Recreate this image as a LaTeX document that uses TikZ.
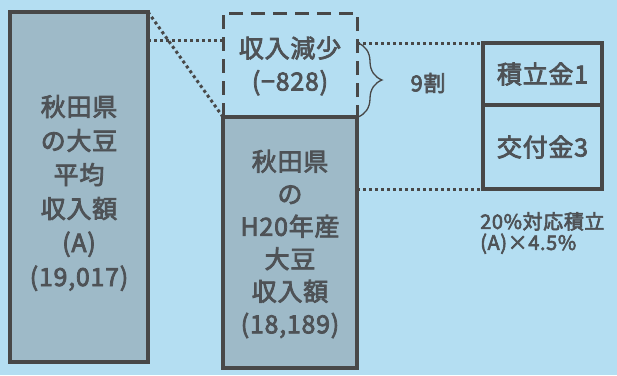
\documentclass[tikz,border=0pt]{standalone}
\usepackage{fontspec}
\newfontfamily\jp[LetterSpace=3,FakeBold=3]{Noto Sans CJK JP}
\usetikzlibrary{decorations.pathreplacing}
\definecolor{bg}{RGB}{180,222,242}
\definecolor{boxfill}{RGB}{158,186,200}
\definecolor{edge}{RGB}{72,72,72}
\definecolor{txt}{RGB}{78,82,86}
\begin{document}
\begin{tikzpicture}[x=1pt,y=-1pt,
  solidbox/.style={draw=edge, line width=3.5pt, fill=boxfill, inner sep=0pt, outer sep=0pt, anchor=north west},
  plainbox/.style={draw=edge, line width=3.5pt, inner sep=0pt, outer sep=0pt, anchor=north west, text=txt, font=\jp\fontsize{25}{28}\selectfont},
  dashbox/.style={draw=edge, line width=3pt, dash pattern=on 14pt off 8pt, inner sep=0pt, outer sep=0pt, anchor=north west},
  dotline/.style={draw=edge, line width=3pt, dash pattern=on 3pt off 3pt},
  lbl/.style={text=txt, align=center, inner sep=0pt}
]
\fill[bg] (0,0) rectangle (617,375);
\useasboundingbox (0,0) rectangle (617,375);

% boxes
\node[solidbox, minimum width=138pt, minimum height=350pt] (L) at (10,12) {};
\node[dashbox, minimum width=134pt, minimum height=104pt] (D) at (223,13) {};
\node[solidbox, minimum width=134pt, minimum height=251pt] (M) at (223,117) {};
\node[plainbox, minimum width=119pt, minimum height=62pt] (R1) at (483,43) {積立金1};
\node[plainbox, minimum width=119pt, minimum height=84pt] (R2) at (483,105) {交付金3};

% texts
\node[lbl, font=\jp\fontsize{25}{34}\selectfont] (Lt) at (79,193)
  {秋田県\\の大豆\\平均\\収入額\\(A)\\(19,017)};
\node[lbl, font=\jp\fontsize{25}{32.5}\selectfont] (Mt) at (290,244)
  {秋田県\\の\\H20年産\\大豆\\収入額\\(18,189)};
\node[lbl, font=\jp\fontsize{25}{33}\selectfont] (Dt) at (290,66)
  {収入減少\\(−828)};
\node[lbl, font=\jp\fontsize{22}{25}\selectfont] (k) at (428,83) {9割};
\node[lbl, align=left, anchor=west, font=\jp\fontsize{20}{21}\selectfont] (note) at (480,233)
  {20\%対応積立\\(A)×4.5\%};

% dotted connectors
\coordinate (h1) at (148,40);
\draw[dotline] (L.north east) -- (D.south west);
\draw[dotline] (h1) -- (h1 -| D.west);
\draw[dotline] (R1.north west -| D.east) -- (R1.north west);
\draw[dotline] (R2.south west -| M.east) -- (R2.south west);

% brace
\coordinate (b1) at (358,43);
\coordinate (b2) at (358,117);
\draw[edge, line width=1.3pt, decorate, decoration={brace, amplitude=24pt}] (b1) -- (b2);
\end{tikzpicture}
\end{document}
